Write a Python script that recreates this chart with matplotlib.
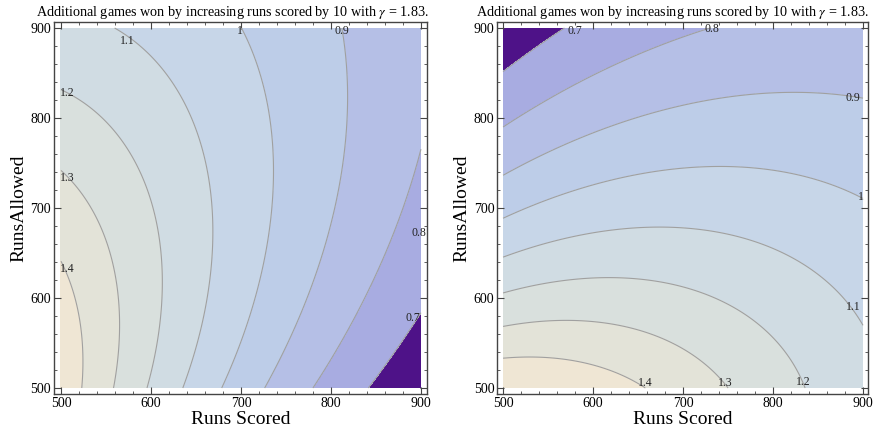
import numpy as np
import matplotlib.pyplot as plt
from matplotlib.ticker import MultipleLocator

# Pythagorean expectation: W = 162 * RS^g / (RS^g + RA^g)
gamma = 1.83
games = 162
delta = 10
runs_min, runs_max = 500, 900

levels = [0.7, 0.8, 0.9, 1.0, 1.1, 1.2, 1.3, 1.4]
level_text = ["0.7", "0.8", "0.9", "1", "1.1", "1.2", "1.3", "1.4"]
band_colors = ["#4e1288", "#a8ace1", "#b5bfe6", "#bdcde8", "#c7d6e8",
               "#d0dce3", "#d9e0dd", "#e3e3d8", "#efe6d4"]

# where each contour label sits (runs scored, runs allowed)
left_label_pos = [(891, 578), (898, 672), (812, 897), (699, 897),
                  (574, 886), (507, 828), (507, 733), (507, 632)]
right_label_pos = [(580, 897), (732, 899), (889, 822), (898, 712),
                   (889, 590), (834, 507), (747, 505), (658, 505)]

rs = np.linspace(runs_min, runs_max, 400)
ra = np.linspace(runs_min, runs_max, 400)
RS, RA = np.meshgrid(rs, ra)


def wins(s, a):
    return games * s**gamma / (s**gamma + a**gamma)


# extra wins from 10 more runs scored / 10 fewer runs allowed
left_z = wins(RS + delta, RA) - wins(RS, RA)
right_z = wins(RS, RA - delta) - wins(RS, RA)

plt.rcParams['font.family'] = ['Liberation Serif', 'DejaVu Serif']
plt.rcParams['mathtext.fontset'] = 'stix'

fig = plt.figure(figsize=(8.76, 4.37), dpi=100)
ax1 = fig.add_axes([0.0616, 0.0984, 0.4258, 0.8513])
ax2 = fig.add_axes([0.5674, 0.0984, 0.4235, 0.8513])

bounds = [-10] + levels + [10]
title = r"Additional games won by increasing runs scored by 10 with $\gamma$ = 1.83."

panels = [(ax1, left_z, left_label_pos, (492.2, 906.7), 0.479),
          (ax2, right_z, right_label_pos, (493.3, 905.6), 0.472)]

for ax, z, label_pos, xlim, title_x in panels:
    ax.contourf(RS, RA, z, levels=bounds, colors=band_colors)
    ax.contour(RS, RA, z, levels=levels, colors="#a0a0a0", linewidths=0.8)
    for (px, py), txt in zip(label_pos, level_text):
        ax.text(px, py, txt, fontsize=8.5, ha="center", va="center", color="#222222")
    ax.set_xlim(*xlim)
    ax.set_ylim(493.3, 906.7)
    ax.xaxis.set_major_locator(MultipleLocator(100))
    ax.yaxis.set_major_locator(MultipleLocator(100))
    ax.xaxis.set_minor_locator(MultipleLocator(20))
    ax.yaxis.set_minor_locator(MultipleLocator(20))
    ax.tick_params(which="both", direction="in", top=True, right=True,
                   color="#444444", labelsize=10, pad=2)
    ax.tick_params(which="major", length=5, width=0.8)
    ax.tick_params(which="minor", length=2.5, width=0.6)
    for sp in ax.spines.values():
        sp.set_color("#444444")
        sp.set_linewidth(1.0)
    ax.set_xlabel("Runs Scored", fontsize=14, labelpad=1)
    ax.set_ylabel("RunsAllowed", fontsize=14, labelpad=2)
    ax.set_title(title, fontsize=10.2, pad=4, x=title_x)

fig.savefig("out.png", dpi=100)
